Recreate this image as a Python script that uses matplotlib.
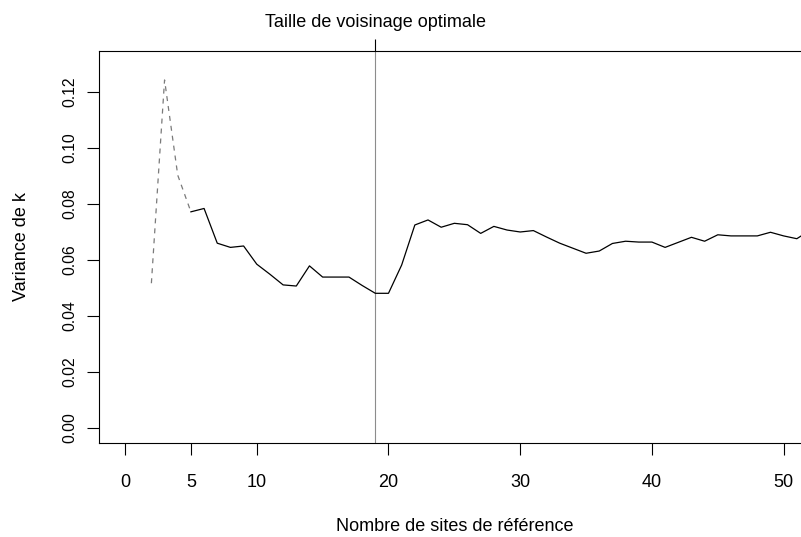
import matplotlib
matplotlib.use("Agg")
import matplotlib.pyplot as plt

plt.rcParams['font.family'] = ['Liberation Sans', 'DejaVu Sans']

# Data
x_dashed = [2, 3, 4, 5]
var_dashed = [0.0516, 0.1242, 0.0902, 0.0771]

x_solid = list(range(5, 53))
var_solid = [0.0771, 0.0783, 0.0659, 0.0644, 0.0649, 0.0584, 0.0548, 0.0510,
             0.0506, 0.0578, 0.0538, 0.0538, 0.0538, 0.0508, 0.0480, 0.0480,
             0.0581, 0.0724, 0.0742, 0.0716, 0.0730, 0.0725, 0.0694, 0.0719,
             0.0706, 0.0699, 0.0704, 0.0681, 0.0659, 0.0641, 0.0623, 0.0631,
             0.0658, 0.0666, 0.0663, 0.0663, 0.0644, 0.0662, 0.0680, 0.0666,
             0.0689, 0.0685, 0.0685, 0.0685, 0.0698, 0.0685, 0.0675, 0.0705]

optimal_k = 19
optimal_label = "Taille de voisinage optimale"

x_ticks = [0, 5, 10, 20, 30, 40, 50]
y_ticks = [0.00, 0.02, 0.04, 0.06, 0.08, 0.10, 0.12]
y_tick_labels = ["0.00", "0.02", "0.04", "0.06", "0.08", "0.10", "0.12"]

W, H = 801, 537
fig = plt.figure(figsize=(W / 100, H / 100), dpi=100)
left_px, right_px, top_px, bottom_px = 98.7, 810.0, 51.0, 442.7
ax = fig.add_axes([left_px / W, 1 - bottom_px / H,
                   (right_px - left_px) / W, (bottom_px - top_px) / H])

ax.set_xlim(-2, 52)
ax.set_ylim(-0.005357, 0.13454)

ax.axvline(optimal_k, color='#8c8c8c', lw=0.8, zorder=1)
ax.plot(x_dashed, var_dashed, color='#7a7a7a', lw=0.9, ls=(0, (4, 4)), zorder=2)
ax.plot(x_solid, var_solid, color='black', lw=0.9, zorder=3)

for s in ax.spines.values():
    s.set_color('black')
    s.set_linewidth(0.8)

ax.set_xticks(x_ticks)
ax.set_xticklabels([str(t) for t in x_ticks], fontsize=13)
ax.tick_params(axis='x', direction='out', length=8.3, width=0.8, pad=14)

ax.set_yticks(y_ticks)
ax.set_yticklabels(y_tick_labels, fontsize=11.3, rotation=90, va='center')
ax.tick_params(axis='y', direction='out', length=8.6, width=0.8, pad=6.5)

sec = ax.secondary_xaxis('top')
sec.set_xticks([optimal_k])
sec.set_xticklabels([optimal_label], fontsize=13)
sec.tick_params(axis='x', direction='out', length=8.6, width=0.8, pad=6)
sec.spines['top'].set_visible(False)

ax.set_xlabel("Nombre de sites de référence", fontsize=13)
ax.xaxis.label.set_va('center')
ax.xaxis.set_label_coords(0.5, -0.2152)
ax.set_ylabel("Variance de k", fontsize=13)
ax.yaxis.label.set_va('center')
ax.yaxis.set_label_coords(-0.1092, 0.5)

fig.savefig("out.png", dpi=100)
